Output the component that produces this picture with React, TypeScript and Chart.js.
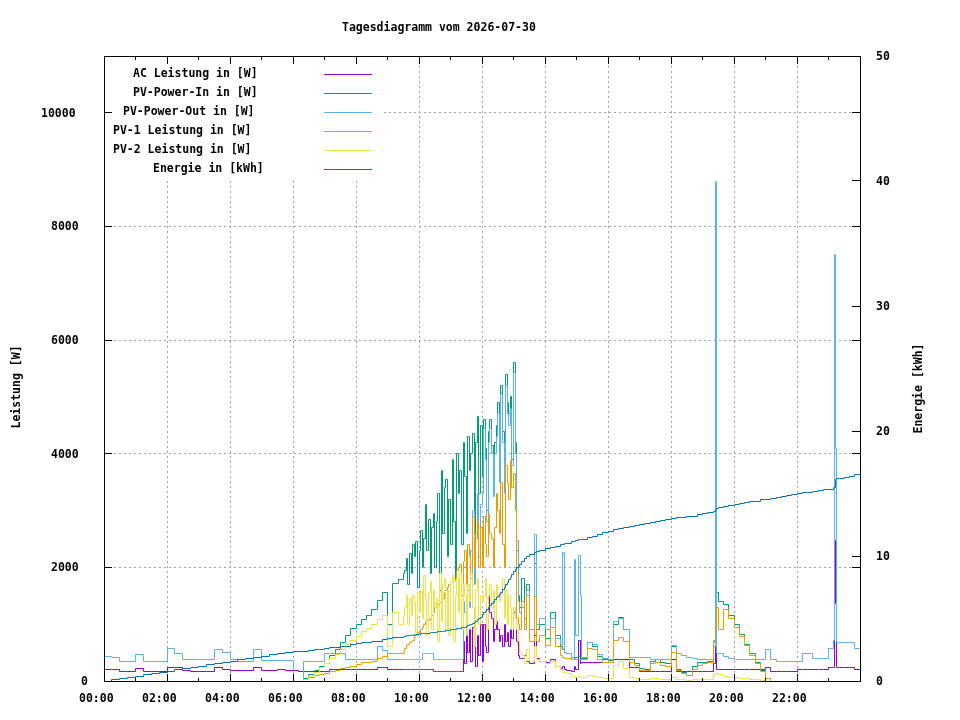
import React, { useEffect, useRef } from 'react';
import { Chart, registerables } from 'chart.js';

Chart.register(...registerables);

// sample times in minutes after midnight
const timeMinutes = [
  0, 15, 30, 45, 60, 75, 90, 105, 120, 135, 150, 165, 180, 195, 210, 225, 240, 255, 270, 285, 300, 315, 330, 345, 360,
  370, 380, 390, 400, 410, 420, 430, 440, 450, 460, 470, 480, 490, 500, 510, 520, 530, 540, 550, 560, 570,
  573, 576, 579, 582, 585, 588, 591, 594, 597, 600,
  603, 606, 609, 612, 615, 618, 621, 624, 627, 630,
  633, 636, 639, 642, 645, 648, 651, 654, 657, 660,
  663, 666, 669, 672, 675, 678, 681, 684, 687, 690,
  693, 696, 699, 702, 705, 708, 711, 714, 717, 720,
  723, 726, 729, 732, 735, 738, 741, 744, 747, 750,
  753, 756, 759, 762, 765, 768, 771, 774, 777, 780,
  783, 786, 789, 792, 795, 800, 805, 810,
  820, 823, 830, 840, 850, 860, 870, 874, 877, 880, 890, 896, 899, 903, 907, 910, 920, 930, 940, 950, 960,
  970, 980, 990, 1000, 1010, 1020, 1030, 1040, 1050, 1060, 1070, 1080, 1090, 1100, 1110, 1120, 1130, 1140, 1150, 1160,
  1165, 1167, 1170, 1180, 1190, 1200, 1210, 1220, 1230, 1240, 1250, 1260, 1270, 1280, 1290, 1300, 1310, 1320, 1330, 1340,
  1350, 1360, 1370, 1380, 1390, 1392, 1394, 1396, 1400, 1410, 1420, 1430, 1440,
];

const acPower = [
  210, 210, 175, 175, 215, 175, 175, 175, 230, 230, 180, 175, 175, 175, 230, 200, 180, 180, 180, 230, 185, 185, 200, 185, 185,
  175, 175, 175, 175, 175, 175, 210, 210, 210, 210, 210, 210, 210, 210, 210, 245, 245, 210, 210, 210, 210,
  210, 210, 210, 210, 210, 210, 210, 210, 210, 210,
  210, 210, 210, 210, 210, 210, 210, 210, 175, 175,
  175, 175, 175, 175, 175, 175, 175, 175, 175, 175,
  175, 175, 175, 175, 175, 175, 175, 700, 300, 850,
  500, 900, 350, 950, 600, 250, 800, 450, 1000, 350,
  1000, 600, 500, 1480, 1200, 1100, 700, 900, 1050, 900,
  700, 800, 600, 1000, 700, 850, 600, 900, 750, 1200,
  1100, 700, 450, 400, 400, 450, 350, 300,
  800, 400, 350, 330, 370, 250, 220, 250, 200, 180, 170, 250, 200, 720, 300, 320, 320, 320, 320, 320, 330,
  370, 370, 370, 230, 230, 160, 160, 160, 160, 160, 160, 370, 160, 160, 160, 160, 160, 160, 160, 310,
  1200, 210, 210, 210, 210, 210, 210, 210, 210, 210, 210, 230, 175, 175, 175, 175, 175, 210, 210, 210,
  210, 210, 210, 245, 245, 2480, 1370, 245, 245, 245, 245, 210, 210,
];

const pvPowerIn = [
  0, 0, 0, 0, 0, 0, 0, 0, 0, 0, 0, 0, 0, 0, 0, 0, 0, 0, 0, 0, 0, 0, 0, 0, 0,
  0, 50, 120, 180, 250, 310, 450, 560, 670, 800, 930, 1000, 1080, 1150, 1260, 1420, 1550, 1000, 1720, 1780, 1900,
  1950, 2150, 1700, 2250, 1900, 2400, 2200, 2450, 1650, 2300,
  2650, 2000, 2500, 3100, 2300, 2850, 1900, 2700, 2950, 2000,
  2800, 3300, 1600, 3700, 2600, 3400, 3550, 2200, 3200, 2400,
  3900, 2800, 1800, 4000, 3300, 3700, 2400, 4200, 3600, 2600,
  4300, 3700, 4000, 4350, 2500, 4200, 4650, 3300, 4500, 3600,
  4600, 4100, 3000, 4400, 4600, 4150, 3400, 4200, 4500, 4900,
  3700, 5200, 4400, 3500, 5400, 4900, 4700, 5000, 3900, 5600,
  4200, 2300, 1500, 1300, 1800, 1100, 1700, 900,
  2070, 900, 1000, 750, 1210, 800, 600, 550, 500, 480, 420, 400, 420, 430, 420, 400, 670, 600, 430, 380, 360,
  1000, 1120, 900, 370, 300, 220, 200, 350, 380, 320, 300, 600, 200, 150, 100, 250, 330, 330, 350, 700,
  1200, 1550, 1400, 1350, 1150, 1000, 820, 650, 480, 320, 180, 40, 0, 0, 0, 0, 0, 0, 0, 0,
  0, 0, 0, 0, 0, 0, 0, 0, 0, 0, 0, 0, 0,
];

const pvPowerOut = [
  440, 420, 350, 350, 460, 350, 350, 350, 580, 490, 370, 370, 370, 370, 560, 500, 380, 350, 350, 560, 360, 360, 360, 360, 0,
  0, 350, 350, 350, 350, 480, 480, 480, 480, 370, 370, 370, 370, 370, 370, 600, 540, 370, 370, 370, 370,
  370, 370, 370, 370, 370, 370, 370, 370, 370, 370,
  370, 490, 490, 490, 490, 490, 490, 490, 370, 370,
  370, 370, 370, 370, 370, 370, 370, 370, 370, 370,
  370, 370, 370, 370, 370, 370, 370, 1400, 1200, 900,
  1600, 1300, 2300, 3000, 1700, 2600, 3300, 2200, 3100, 3300,
  4450, 3900, 2800, 4200, 4450, 4000, 3250, 4000, 4300, 4700,
  3500, 5050, 4200, 3300, 5200, 4700, 4500, 4800, 3800, 5430,
  4000, 2480, 1400, 1200, 1300, 1000, 1600, 900,
  2570, 1000, 1100, 900, 1100, 750, 650, 2270, 500, 480, 420, 2140, 800, 2210, 1500, 420, 670, 650, 470, 400, 380,
  1050, 1100, 900, 420, 420, 420, 420, 370, 370, 370, 370, 630, 490, 450, 420, 400, 370, 370, 370, 720,
  8790, 490, 490, 430, 400, 380, 380, 380, 380, 380, 380, 560, 380, 350, 350, 350, 350, 350, 490, 490,
  400, 400, 400, 580, 720, 7500, 4100, 670, 670, 670, 670, 580, 580,
];

const pv1Power = [
  0, 0, 0, 0, 0, 0, 0, 0, 0, 0, 0, 0, 0, 0, 0, 0, 0, 0, 0, 0, 0, 0, 0, 0, 0,
  0, 20, 60, 90, 120, 140, 160, 190, 220, 240, 250, 290, 320, 330, 340, 400, 430, 480, 490, 490, 500,
  580, 620, 650, 680, 700, 720, 770, 800, 850, 820,
  900, 950, 1000, 1050, 1070, 1080, 1100, 1150, 1200, 1300,
  1300, 1350, 1380, 1400, 1450, 1550, 1600, 1650, 1700, 1750,
  1850, 1800, 1750, 1950, 2000, 2050, 1500, 2100, 2300, 1700,
  2400, 2200, 1800, 2900, 2000, 2500, 2800, 2000, 2700, 2000,
  2900, 2400, 2200, 2950, 2600, 2500, 2000, 2700, 3300, 3000,
  2600, 3500, 2400, 2000, 3800, 3500, 3200, 3880, 3400, 3650,
  3000, 1120, 1000, 900, 1400, 900, 1500, 700,
  1480, 700, 800, 620, 950, 600, 450, 420, 400, 390, 380, 370, 380, 380, 380, 370, 580, 550, 380, 330, 330,
  720, 770, 700, 320, 270, 190, 180, 300, 330, 280, 260, 500, 180, 130, 90, 200, 280, 300, 320, 600,
  1000, 1300, 900, 1250, 1100, 950, 780, 620, 450, 300, 170, 40, 0, 0, 0, 0, 0, 0, 0, 0,
  0, 0, 0, 0, 0, 0, 0, 0, 0, 0, 0, 0, 0,
];

const pv2Power = [
  0, 0, 0, 0, 0, 0, 0, 0, 0, 0, 0, 0, 0, 0, 0, 0, 0, 0, 0, 0, 0, 0, 0, 0, 0,
  0, 30, 80, 150, 230, 300, 400, 470, 560, 650, 720, 780, 870, 930, 1000, 1080, 1150, 600, 1200, 1000, 1150,
  1300, 1500, 1000, 1450, 1150, 1500, 1400, 850, 1550, 1200,
  1600, 1100, 1850, 1450, 800, 1550, 1750, 900, 1600, 1300,
  1450, 700, 1900, 1050, 1700, 1800, 900, 1600, 800, 1750,
  1850, 700, 1500, 1800, 1200, 1900, 900, 1700, 1500, 800,
  1700, 1400, 1900, 1300, 600, 1600, 1800, 1000, 1500, 1400,
  1500, 1800, 900, 1500, 1700, 1300, 1600, 1000, 1700, 1500,
  1400, 1500, 1800, 1100, 1600, 1000, 1500, 1300, 900, 1300,
  1100, 900, 700, 500, 450, 300, 550, 350,
  600, 380, 350, 300, 350, 250, 200, 150, 150, 130, 80, 60, 60, 80, 60, 60, 100, 80, 70, 50, 40,
  280, 350, 220, 60, 40, 30, 20, 50, 40, 30, 30, 60, 20, 20, 10, 20, 30, 30, 30, 120,
  140, 140, 120, 80, 70, 60, 50, 40, 30, 20, 10, 0, 0, 0, 0, 0, 0, 0, 0, 0,
  0, 0, 0, 0, 0, 0, 0, 0, 0, 0, 0, 0, 0,
];

const energyKwh = [
  0, 0.1, 0.2, 0.3, 0.4, 0.5, 0.6, 0.7, 0.8, 0.9, 1.0, 1.1, 1.2, 1.3, 1.4, 1.5, 1.6, 1.7, 1.8, 1.9, 2.0, 2.1, 2.2, 2.3, 2.35,
  2.35, 2.4, 2.45, 2.5, 2.55, 2.6, 2.65, 2.7, 2.75, 2.8, 2.9, 3.0, 3.05, 3.1, 3.15, 3.2, 3.3, 3.4, 3.45, 3.5, 3.55,
  3.6, 3.61, 3.63, 3.65, 3.66, 3.68, 3.7, 3.71, 3.73, 3.75,
  3.77, 3.78, 3.8, 3.81, 3.82, 3.84, 3.85, 3.87, 3.88, 3.9,
  3.92, 3.93, 3.95, 3.96, 3.98, 4.0, 4.02, 4.04, 4.06, 4.1,
  4.12, 4.13, 4.15, 4.17, 4.2, 4.22, 4.25, 4.28, 4.32, 4.4,
  4.45, 4.5, 4.55, 4.6, 4.7, 4.8, 4.9, 5.0, 5.1, 5.3,
  5.45, 5.6, 5.75, 5.9, 6.05, 6.2, 6.35, 6.5, 6.65, 6.8,
  6.95, 7.1, 7.3, 7.5, 7.7, 7.9, 8.1, 8.3, 8.5, 8.75,
  8.9, 9.05, 9.2, 9.35, 9.6, 9.8, 9.95, 10.1,
  10.3, 10.35, 10.45, 10.6, 10.7, 10.8, 10.9, 10.95, 11.0, 11.02, 11.15, 11.2, 11.25, 11.3, 11.33, 11.35, 11.5, 11.6, 11.7, 11.85, 12.0,
  12.1, 12.2, 12.3, 12.4, 12.45, 12.55, 12.6, 12.7, 12.75, 12.85, 12.9, 13.0, 13.05, 13.1, 13.15, 13.2, 13.3, 13.4, 13.5, 13.6,
  13.7, 13.8, 13.9, 14.0, 14.05, 14.15, 14.2, 14.3, 14.35, 14.4, 14.5, 14.55, 14.6, 14.7, 14.8, 14.85, 14.9, 15.0, 15.05, 15.1,
  15.15, 15.2, 15.3, 15.35, 15.45, 15.5, 16.1, 16.2, 16.2, 16.3, 16.35, 16.5, 16.6,
];

const timeTicks = [0, 120, 240, 360, 480, 600, 720, 840, 960, 1080, 1200, 1320];
const powerTicks = [0, 2000, 4000, 6000, 8000, 10000];
const energyTicks = [0, 10, 20, 30, 40, 50];

const series = [
  { label: 'AC Leistung in [W]', values: acPower, color: '#9400d3', axis: 'y' },
  { label: 'PV-Power-In in [W]', values: pvPowerIn, color: '#009e73', axis: 'y' },
  { label: 'PV-Power-Out in [W]', values: pvPowerOut, color: '#56b4e9', axis: 'y' },
  { label: 'PV-1 Leistung in [W]', values: pv1Power, color: '#e69f00', axis: 'y' },
  { label: 'PV-2 Leistung in [W]', values: pv2Power, color: '#f0e442', axis: 'y' },
  { label: 'Energie in [kWh]', values: energyKwh, color: '#0072b2', axis: 'y2' },
];

const FONT = 'bold 11.5px "DejaVu Sans Mono", monospace';
// gnuplot justifies text as if every glyph were 10px wide
const CHAR_W = 10;

const hhmm = (m: number) =>
  String(Math.floor(m / 60)).padStart(2, '0') + ':' + String(m % 60).padStart(2, '0');

const gnuplotLook = {
  id: 'gnuplotLook',
  beforeDatasetsDraw(chart: any) {
    // snap points to pixel centres so the 1px steps stay crisp
    chart.data.datasets.forEach((_: any, i: number) => {
      chart.getDatasetMeta(i).data.forEach((p: any) => {
        p.x = Math.floor(p.x) + 0.5;
        p.y = Math.floor(p.y) + 0.5;
      });
    });
  },
  afterDatasetsDraw(chart: any) {
    const { ctx, chartArea: a } = chart;
    const sx = chart.scales.x;
    const sy = chart.scales.y;
    const sy2 = chart.scales.y2;
    ctx.save();
    ctx.font = FONT;
    ctx.textAlign = 'left';
    ctx.textBaseline = 'alphabetic';

    // key
    ctx.fillStyle = '#ffffff';
    ctx.fillRect(a.left, a.top, 278, 123);
    series.forEach((s, i) => {
      const ty = a.top + 21 + i * 19;
      ctx.fillStyle = '#000000';
      ctx.fillText(s.label, a.left + 209 - s.label.length * CHAR_W, ty);
      ctx.strokeStyle = s.color;
      ctx.lineWidth = 1;
      ctx.beginPath();
      ctx.moveTo(a.left + 220, ty - 2.5);
      ctx.lineTo(a.left + 268, ty - 2.5);
      ctx.stroke();
    });

    // border and inward ticks
    ctx.strokeStyle = '#000000';
    ctx.lineWidth = 1;
    ctx.strokeRect(a.left + 0.5, a.top + 0.5, a.right - a.left, a.bottom - a.top);
    ctx.beginPath();
    for (let m = 60; m < 1440; m += 60) {
      const px = Math.floor(sx.getPixelForValue(m)) + 0.5;
      const len = m % 120 === 0 ? 7 : 3;
      ctx.moveTo(px, a.bottom);
      ctx.lineTo(px, a.bottom - len);
      ctx.moveTo(px, a.top + 1);
      ctx.lineTo(px, a.top + 1 + len);
    }
    powerTicks.forEach((v) => {
      const py = Math.floor(sy.getPixelForValue(v)) + 0.5;
      ctx.moveTo(a.left, py);
      ctx.lineTo(a.left + 8, py);
      ctx.moveTo(a.right, py);
      ctx.lineTo(a.right - 8, py);
    });
    energyTicks.forEach((v) => {
      const py = Math.floor(sy2.getPixelForValue(v)) + 0.5;
      ctx.moveTo(a.right, py);
      ctx.lineTo(a.right - 8, py);
    });
    ctx.stroke();

    // tick labels
    ctx.fillStyle = '#000000';
    timeTicks.forEach((m) => {
      const t = hhmm(m);
      ctx.fillText(t, Math.round(sx.getPixelForValue(m) - (t.length * CHAR_W) / 2), a.bottom + 21);
    });
    powerTicks.forEach((v) => {
      const t = String(v);
      ctx.fillText(t, a.left - 13 - t.length * CHAR_W, Math.round(sy.getPixelForValue(v) + 4));
    });
    energyTicks.forEach((v) => {
      ctx.fillText(String(v), a.right + 16, Math.round(sy2.getPixelForValue(v) + 4));
    });

    // title and axis titles
    const title = 'Tagesdiagramm vom 2026-07-30';
    const midX = (a.left + a.right) / 2;
    const midY = (a.top + a.bottom) / 2;
    ctx.fillText(title, Math.round(midX - (title.length * CHAR_W) / 2), 31);

    const leftTitle = 'Leistung [W]';
    ctx.save();
    ctx.translate(20, midY + (leftTitle.length * CHAR_W) / 2);
    ctx.rotate(-Math.PI / 2);
    ctx.fillText(leftTitle, 0, 0);
    ctx.restore();

    const rightTitle = 'Energie [kWh]';
    ctx.save();
    ctx.translate(922, midY + (rightTitle.length * CHAR_W) / 2);
    ctx.rotate(-Math.PI / 2);
    ctx.fillText(rightTitle, 0, 0);
    ctx.restore();

    ctx.restore();
  },
};

const gridStyle = { color: '#a0a0a0', lineWidth: 1, drawTicks: false };

const App = () => {
  const canvasRef = useRef<HTMLCanvasElement>(null);
  const chartRef = useRef<Chart | null>(null);

  useEffect(() => {
    if (!canvasRef.current) return;
    if (chartRef.current) chartRef.current.destroy();

    chartRef.current = new Chart(canvasRef.current, {
      type: 'line',
      data: {
        datasets: series.map((s, i) => ({
          label: s.label,
          data: timeMinutes.map((m, k) => ({ x: m, y: s.values[k] })),
          borderColor: s.color,
          backgroundColor: s.color,
          borderWidth: 1,
          pointRadius: 0,
          stepped: true,
          fill: false,
          yAxisID: s.axis,
          order: series.length - i, // later series on top, like gnuplot
        })),
      },
      options: {
        animation: false,
        responsive: false,
        devicePixelRatio: 1,
        layout: { padding: { top: 56, left: 0, right: 0, bottom: 0 } },
        plugins: {
          legend: { display: false },
          title: { display: false },
          tooltip: { enabled: false },
        },
        scales: {
          x: {
            type: 'linear',
            min: 0,
            max: 1440,
            ticks: { display: false },
            afterBuildTicks: (s: any) => { s.ticks = timeTicks.map((v) => ({ value: v })); },
            grid: gridStyle,
            border: { display: false, dash: [2, 3] },
            afterFit: (s: any) => { s.height = 39; },
          },
          y: {
            type: 'linear',
            position: 'left',
            min: 0,
            max: 11000,
            ticks: { display: false },
            afterBuildTicks: (s: any) => { s.ticks = powerTicks.map((v) => ({ value: v })); },
            grid: gridStyle,
            border: { display: false, dash: [2, 3] },
            afterFit: (s: any) => { s.width = 104; },
          },
          y2: {
            type: 'linear',
            position: 'right',
            min: 0,
            max: 50,
            ticks: { display: false },
            afterBuildTicks: (s: any) => { s.ticks = energyTicks.map((v) => ({ value: v })); },
            grid: { display: false, drawTicks: false },
            border: { display: false },
            afterFit: (s: any) => { s.width = 100; },
          },
        },
      },
      plugins: [gnuplotLook],
    } as any);

    return () => {
      if (chartRef.current) {
        chartRef.current.destroy();
        chartRef.current = null;
      }
    };
  }, []);

  return (
    <div style={{ position: 'fixed', left: 0, top: 0, width: 960, height: 720, background: '#ffffff' }}>
      <canvas ref={canvasRef} width={960} height={720} style={{ width: 960, height: 720 }} />
    </div>
  );
};

export default App;
